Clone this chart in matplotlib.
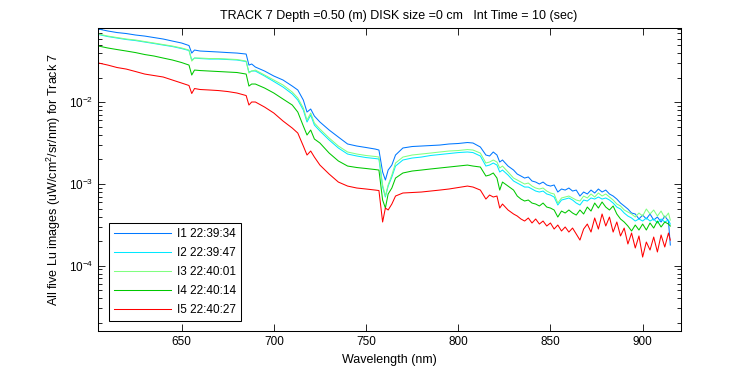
import numpy as np
import matplotlib
matplotlib.use('Agg')
import matplotlib.pyplot as plt

plt.rcParams['font.family'] = ['Liberation Sans', 'DejaVu Sans']
plt.rcParams['mathtext.fontset'] = 'custom'
plt.rcParams['mathtext.rm'] = 'Liberation Sans'

# wavelength grid (nm)
wavelength = [605, 610, 615, 620, 625, 630, 635, 640, 645, 650, 654, 655.5, 657, 660, 665,
              670, 675, 680, 685, 686.5, 688, 690, 695, 700, 705, 710, 713, 716, 718, 720,
              722, 725, 730, 735, 740, 745, 750, 755, 757, 759, 760.5, 762, 764, 766, 770,
              775, 780, 785, 790, 795, 800, 805, 808, 812, 815, 817, 819, 821, 822.5, 824,
              827, 830,
              832, 834, 836, 838, 840, 842, 844, 846, 848, 850, 852, 854, 856, 858, 860,
              862, 864, 866, 868, 870, 872, 874, 876, 878, 880, 882, 884, 886, 888, 890,
              892, 894, 896, 898, 900, 902, 904, 906, 908, 910, 912, 914, 915]

# log10 of Lu (uW/cm^2/sr/nm) for the five images
log_i1 = [-1.103, -1.127, -1.146, -1.158, -1.176, -1.189, -1.207, -1.225, -1.250, -1.274,
          -1.305, -1.397, -1.360, -1.372, -1.378, -1.384, -1.391, -1.397, -1.409, -1.544,
          -1.531, -1.568, -1.617, -1.678, -1.727, -1.801, -1.849, -1.972, -2.119, -2.082,
          -2.168, -2.241, -2.339, -2.425, -2.510, -2.535, -2.553, -2.572, -2.584, -2.853,
          -2.951, -2.829, -2.768, -2.645, -2.559, -2.541, -2.535, -2.529, -2.523, -2.510,
          -2.504, -2.492, -2.498, -2.547, -2.645, -2.657, -2.608, -2.645, -2.731, -2.706,
          -2.780, -2.829,
          -2.878, -2.902, -2.927, -2.914, -2.963, -2.976, -3.000, -2.976, -3.012, -3.025,
          -3.012, -3.098, -3.061, -3.074, -3.049, -3.086, -3.074, -3.147, -3.098, -3.122,
          -3.074, -3.110, -3.061, -3.098, -3.074, -3.122, -3.147, -3.184, -3.233, -3.269,
          -3.306, -3.355, -3.367, -3.428, -3.380, -3.428, -3.367, -3.441, -3.404, -3.465,
          -3.392, -3.453, -3.747]
log_i2 = [-1.170, -1.195, -1.213, -1.231, -1.244, -1.262, -1.280, -1.299, -1.317, -1.342,
          -1.366, -1.482, -1.458, -1.464, -1.470, -1.470, -1.476, -1.482, -1.501, -1.629,
          -1.617, -1.617, -1.678, -1.745, -1.813, -1.898, -1.972, -2.094, -2.241, -2.156,
          -2.278, -2.351, -2.461, -2.559, -2.633, -2.657, -2.676, -2.688, -2.694, -3.037,
          -3.159, -3.025, -2.914, -2.780, -2.706, -2.682, -2.670, -2.651, -2.639, -2.627,
          -2.615, -2.608, -2.615, -2.657, -2.780, -2.768, -2.743, -2.768, -2.853, -2.829,
          -2.890, -2.963,
          -2.988, -3.012, -3.037, -3.037, -3.061, -3.086, -3.098, -3.086, -3.122, -3.135,
          -3.159, -3.257, -3.196, -3.184, -3.171, -3.196, -3.233, -3.257, -3.196, -3.208,
          -3.171, -3.184, -3.159, -3.184, -3.171, -3.196, -3.233, -3.282, -3.306, -3.355,
          -3.392, -3.416, -3.453, -3.428, -3.453, -3.416, -3.453, -3.428, -3.477, -3.428,
          -3.465, -3.441, -3.490]
log_i3 = [-1.164, -1.189, -1.207, -1.225, -1.237, -1.256, -1.274, -1.293, -1.311, -1.335,
          -1.360, -1.495, -1.458, -1.458, -1.464, -1.464, -1.470, -1.476, -1.495, -1.641,
          -1.617, -1.605, -1.666, -1.727, -1.788, -1.874, -1.947, -2.070, -2.217, -2.131,
          -2.253, -2.327, -2.437, -2.535, -2.608, -2.633, -2.651, -2.663, -2.670, -3.012,
          -3.147, -3.012, -2.890, -2.743, -2.670, -2.645, -2.633, -2.621, -2.608, -2.596,
          -2.590, -2.578, -2.584, -2.621, -2.743, -2.731, -2.706, -2.731, -2.804, -2.780,
          -2.853, -2.927,
          -2.951, -2.976, -3.000, -2.988, -3.025, -3.049, -3.061, -3.049, -3.086, -3.110,
          -3.122, -3.233, -3.171, -3.159, -3.147, -3.171, -3.196, -3.208, -3.147, -3.171,
          -3.122, -3.159, -3.110, -3.147, -3.122, -3.159, -3.196, -3.245, -3.269, -3.318,
          -3.343, -3.367, -3.404, -3.355, -3.392, -3.306, -3.367, -3.318, -3.392, -3.331,
          -3.416, -3.355, -3.441]
log_i4 = [-1.311, -1.335, -1.354, -1.372, -1.391, -1.415, -1.433, -1.458, -1.482, -1.513,
          -1.544, -1.666, -1.605, -1.611, -1.617, -1.623, -1.629, -1.635, -1.654, -1.801,
          -1.776, -1.776, -1.825, -1.886, -1.960, -2.033, -2.119, -2.290, -2.400, -2.339,
          -2.449, -2.498, -2.621, -2.718, -2.780, -2.798, -2.810, -2.823, -2.829, -3.196,
          -3.294, -3.122, -3.049, -2.927, -2.865, -2.841, -2.829, -2.816, -2.804, -2.792,
          -2.780, -2.768, -2.780, -2.792, -2.902, -2.890, -2.865, -2.927, -3.074, -2.976,
          -3.025, -3.074,
          -3.147, -3.184, -3.208, -3.196, -3.233, -3.245, -3.269, -3.233, -3.282, -3.294,
          -3.318, -3.404, -3.331, -3.355, -3.318, -3.355, -3.380, -3.318, -3.367, -3.282,
          -3.331, -3.233, -3.294, -3.220, -3.282, -3.318, -3.269, -3.367, -3.428, -3.465,
          -3.514, -3.575, -3.502, -3.563, -3.490, -3.563, -3.477, -3.539, -3.453, -3.526,
          -3.465, -3.490, -3.514]
log_i5 = [-1.519, -1.544, -1.574, -1.593, -1.623, -1.654, -1.672, -1.690, -1.727, -1.764,
          -1.794, -1.892, -1.831, -1.843, -1.849, -1.856, -1.868, -1.886, -1.917, -2.033,
          -1.996, -1.996, -2.058, -2.131, -2.229, -2.315, -2.376, -2.535, -2.645, -2.596,
          -2.670, -2.768, -2.878, -2.976, -3.025, -3.049, -3.061, -3.074, -3.080, -3.465,
          -3.294, -3.318, -3.245, -3.147, -3.110, -3.104, -3.098, -3.086, -3.074, -3.061,
          -3.043, -3.025, -3.037, -3.074, -3.184, -3.135, -3.159, -3.147, -3.294, -3.245,
          -3.318, -3.367,
          -3.392, -3.428, -3.453, -3.416, -3.477, -3.428, -3.490, -3.453, -3.514, -3.477,
          -3.551, -3.502, -3.575, -3.526, -3.588, -3.539, -3.612, -3.686, -3.551, -3.490,
          -3.588, -3.416, -3.551, -3.367, -3.514, -3.404, -3.588, -3.465, -3.636, -3.539,
          -3.734, -3.600, -3.783, -3.636, -3.894, -3.710, -3.808, -3.649, -3.832, -3.624,
          -3.771, -3.600, -3.686]

labels = ['I1 22:39:34', 'I2 22:39:47', 'I3 22:40:01', 'I4 22:40:14', 'I5 22:40:27']
colors = ['#0078ff', '#00e8ff', '#80ff80', '#00c800', '#ff0000']

fig = plt.figure(figsize=(7.5, 3.75), dpi=100)
ax = fig.add_axes([0.131, 0.1165, 0.777, 0.808])

wl = np.array(wavelength)
for logs, lab, col in zip([log_i1, log_i2, log_i3, log_i4, log_i5], labels, colors):
    ax.plot(wl, 10 ** np.array(logs), color=col, lw=0.75, label=lab)

ax.set_yscale('log')
ax.set_xlim(604.8, 920.8)
ax.set_ylim(10 ** -4.803, 10 ** -1.094)
ax.set_xticks([650, 700, 750, 800, 850, 900])
ax.tick_params(which='both', direction='in', top=True, right=True, labelsize=8.5)
ax.tick_params(which='major', length=5, width=0.6)
ax.tick_params(which='minor', length=3, width=0.6)
for sp in ax.spines.values():
    sp.set_linewidth(0.75)

# title sits a bit right of the axes centre in the original
ax.set_title('TRACK 7 Depth =0.50 (m) DISK size =0 cm   Int Time = 10 (sec)',
             fontsize=9, pad=7, x=0.515)
ax.set_xlabel('Wavelength (nm)', fontsize=9)
ax.set_ylabel('All five Lu images (uW/cm$^2$/sr/nm) for Track 7', fontsize=9)

leg = ax.legend(loc='lower left', fontsize=8.5, fancybox=False, edgecolor='black',
                framealpha=1, borderaxespad=0.9, handlelength=4.9, handletextpad=0.5,
                labelspacing=0.6)
leg.get_frame().set_linewidth(0.75)

fig.savefig('out.png', dpi=100)
